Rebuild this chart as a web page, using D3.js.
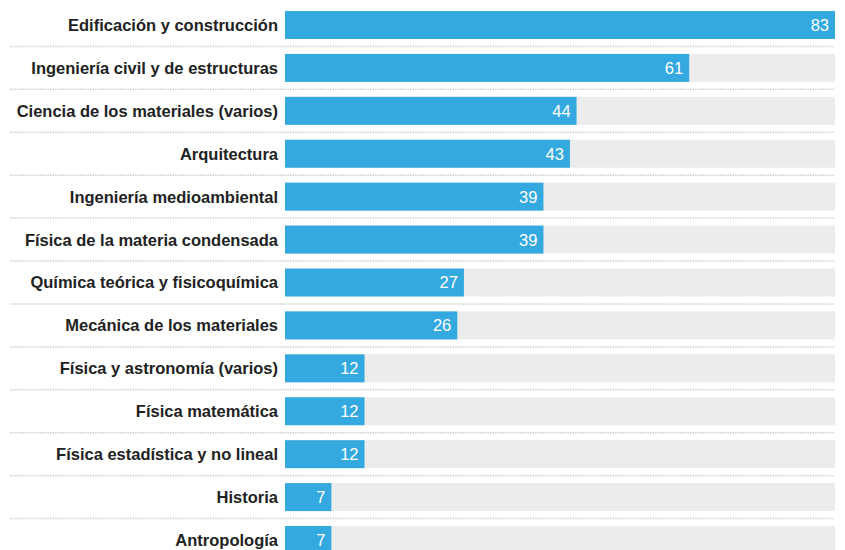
<!DOCTYPE html>
<html>
<head>
<meta charset="utf-8">
<script src="https://cdn.jsdelivr.net/npm/d3@7"></script>
<style>
  body { margin: 0; background: #fff; }
  svg { display: block; font-family: "Liberation Sans", Arial, sans-serif; }
</style>
</head>
<body>
<svg width="845" height="550"></svg>
<script>
var categories = [
  "Edificación y construcción",
  "Ingeniería civil y de estructuras",
  "Ciencia de los materiales (varios)",
  "Arquitectura",
  "Ingeniería medioambiental",
  "Física de la materia condensada",
  "Química teórica y fisicoquímica",
  "Mecánica de los materiales",
  "Física y astronomía (varios)",
  "Física matemática",
  "Física estadística y no lineal",
  "Historia",
  "Antropología"
];
var values = [83, 61, 44, 43, 39, 39, 27, 26, 12, 12, 12, 7, 7];
var maxValue = 83;

var svg = d3.select("svg");

var x = d3.scaleLinear()
  .domain([0, maxValue])
  .range([285, 835]);

var y = d3.scaleBand()
  .domain(categories)
  .range([11, 554])
  .paddingInner(0.348)
  .paddingOuter(0);

var bw = y.bandwidth();
var gap = y.step() - bw;

// dotted separators
svg.append("g")
  .selectAll("line")
  .data(categories.slice(0, -1))
  .enter().append("line")
  .attr("x1", 10)
  .attr("x2", 835)
  .attr("y1", function(d) { return y(d) + bw + gap / 2; })
  .attr("y2", function(d) { return y(d) + bw + gap / 2; })
  .attr("stroke", "#d2d2d2")
  .attr("stroke-width", 1.5)
  .attr("stroke-dasharray", "1.5,1");

// background tracks
svg.append("g")
  .selectAll("rect")
  .data(categories)
  .enter().append("rect")
  .attr("x", x(0))
  .attr("y", function(d) { return y(d); })
  .attr("width", x(maxValue) - x(0))
  .attr("height", bw)
  .attr("fill", "#ebeceb");

var rows = categories.map(function(c, i) { return {cat: c, value: values[i]}; });

// bars
svg.append("g")
  .selectAll("rect")
  .data(rows)
  .enter().append("rect")
  .attr("x", x(0))
  .attr("y", function(d) { return y(d.cat); })
  .attr("width", function(d) { return x(d.value) - x(0); })
  .attr("height", bw)
  .attr("fill", "#33a9df");

// value labels
svg.append("g")
  .selectAll("text")
  .data(rows)
  .enter().append("text")
  .attr("x", function(d) { return x(d.value) - 6; })
  .attr("y", function(d) { return y(d.cat) + bw / 2; })
  .attr("dy", "0.36em")
  .attr("text-anchor", "end")
  .attr("fill", "#fff")
  .attr("font-size", 16.5)
  .text(function(d) { return d.value; });

// category labels
svg.append("g")
  .selectAll("text")
  .data(categories)
  .enter().append("text")
  .attr("x", 278)
  .attr("y", function(d) { return y(d) + bw / 2; })
  .attr("dy", "0.36em")
  .attr("text-anchor", "end")
  .attr("fill", "#222")
  .attr("font-size", 16.5)
  .attr("font-weight", "bold")
  .text(function(d) { return d; });
</script>
</body>
</html>
